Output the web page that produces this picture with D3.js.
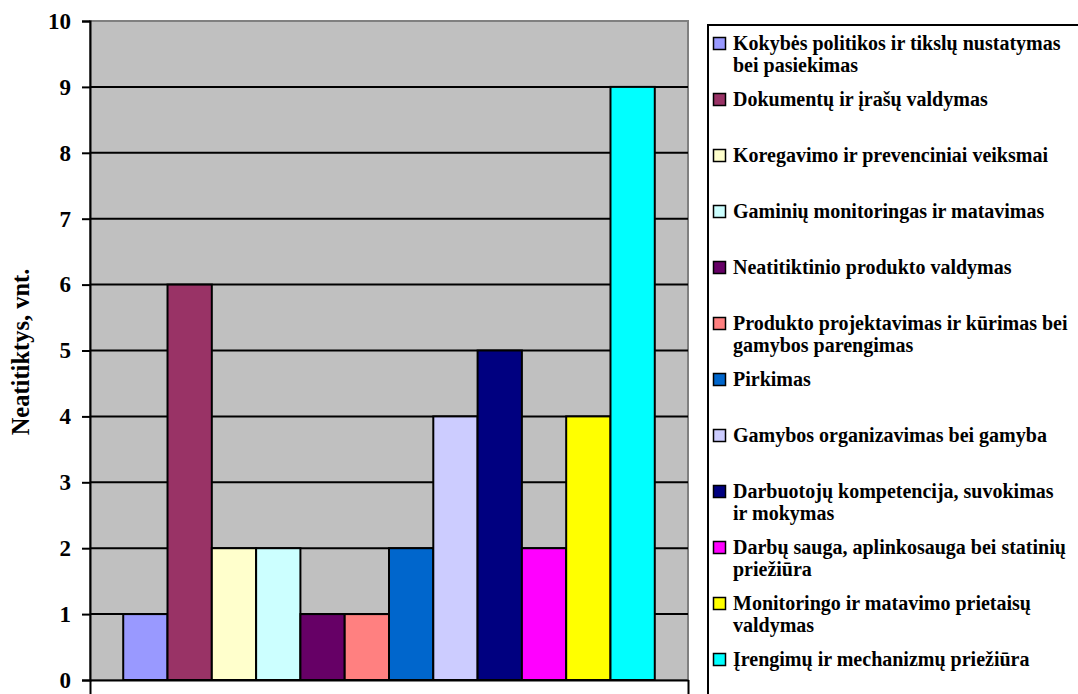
<!DOCTYPE html>
<html>
<head>
<meta charset="utf-8">
<script src="https://cdn.jsdelivr.net/npm/d3@7"></script>
<style>
  html, body { margin: 0; padding: 0; background: #ffffff; }
  svg { display: block; font-family: "Liberation Serif", "Times New Roman", serif; font-weight: bold; }
</style>
</head>
<body>
<svg id="chart" width="1078" height="694"></svg>
<script>
// Neatitiktys pagal sritis (vnt.); "\n" marks where a legend entry breaks onto a second line
const categories = [
  "Kokybės politikos ir tikslų nustatymas\nbei pasiekimas",
  "Dokumentų ir įrašų valdymas",
  "Koregavimo ir prevenciniai veiksmai",
  "Gaminių monitoringas ir matavimas",
  "Neatitiktinio produkto valdymas",
  "Produkto projektavimas ir kūrimas bei\ngamybos parengimas",
  "Pirkimas",
  "Gamybos organizavimas bei gamyba",
  "Darbuotojų kompetencija, suvokimas\nir mokymas",
  "Darbų sauga, aplinkosauga bei statinių\npriežiūra",
  "Monitoringo ir matavimo prietaisų\nvaldymas",
  "Įrengimų ir mechanizmų priežiūra"
];
const values = [1, 6, 2, 2, 1, 1, 2, 4, 5, 2, 4, 9];
const colors = [
  "#9999FF", "#993366", "#FFFFCC", "#CCFFFF", "#660066", "#FF8080",
  "#0066CC", "#CCCCFF", "#000080", "#FF00FF", "#FFFF00", "#00FFFF"
];
const yTicks = [0, 1, 2, 3, 4, 5, 6, 7, 8, 9, 10];
const yTitle = "Neatitiktys, vnt.";

const svg = d3.select("#chart");
const plot = { left: 90, right: 688, top: 21, bottom: 680 };

const y = d3.scaleLinear().domain([0, 10]).range([plot.bottom, plot.top]);
const x = d3.scaleBand()
  .domain(categories)
  .range([plot.left, plot.right])
  .paddingInner(0)
  .paddingOuter(0.75);

// plot background
svg.append("rect")
  .attr("x", plot.left).attr("y", plot.top)
  .attr("width", plot.right - plot.left).attr("height", plot.bottom - plot.top)
  .attr("fill", "#C0C0C0")
  .attr("stroke", "#808080").attr("stroke-width", 2);

// horizontal gridlines
svg.append("g")
  .selectAll("line")
  .data(yTicks.filter(t => t > 0 && t < 10))
  .join("line")
  .attr("x1", plot.left).attr("x2", plot.right)
  .attr("y1", d => y(d)).attr("y2", d => y(d))
  .attr("stroke", "#000").attr("stroke-width", 2);

// bars
svg.append("g")
  .selectAll("rect")
  .data(categories)
  .join("rect")
  .attr("x", d => x(d))
  .attr("y", (d, i) => y(values[i]))
  .attr("width", x.bandwidth())
  .attr("height", (d, i) => y(0) - y(values[i]))
  .attr("fill", (d, i) => colors[i])
  .attr("stroke", "#000").attr("stroke-width", 2);

// y axis
const yAxis = d3.axisLeft(y).tickValues(yTicks).tickFormat(d3.format("d")).tickSize(8).tickPadding(11);
const gy = svg.append("g").attr("transform", `translate(${plot.left},0)`).call(yAxis);
gy.select(".domain").attr("stroke", "#000").attr("stroke-width", 2);
gy.selectAll(".tick line").attr("stroke", "#000").attr("stroke-width", 2);
gy.selectAll(".tick text")
  .attr("font-family", "Liberation Serif, Times New Roman, serif")
  .attr("font-weight", "bold").attr("font-size", 23).attr("fill", "#000");

// x axis (single category: ticks only at both ends)
const xEdge = d3.scaleLinear().domain([0, 1]).range([plot.left, plot.right]);
const gx = svg.append("g").attr("transform", `translate(0,${plot.bottom})`)
  .call(d3.axisBottom(xEdge).tickValues([0, 1]).tickFormat("").tickSize(16).tickSizeOuter(0));
gx.select(".domain").attr("stroke", "#000").attr("stroke-width", 2);
gx.selectAll(".tick line").attr("stroke", "#000").attr("stroke-width", 2);

// y axis title
svg.append("text")
  .attr("transform", `translate(29,352) rotate(-90)`)
  .attr("text-anchor", "middle")
  .attr("font-size", 24.5)
  .text(yTitle);

// legend
const legendBox = { x: 708, y: 25 };
svg.append("rect")
  .attr("x", legendBox.x).attr("y", legendBox.y)
  .attr("width", 400).attr("height", 700)
  .attr("fill", "#fff").attr("stroke", "#000").attr("stroke-width", 2);

const legendStep = 56;
const legendFirst = 50;
const lineGap = 22;
const textX = 733;

const items = svg.append("g").selectAll("g")
  .data(categories)
  .join("g")
  .attr("transform", (d, i) => `translate(0,${legendFirst + i * legendStep})`);

items.append("rect")
  .attr("x", 713.5).attr("y", -12.5)
  .attr("width", 12).attr("height", 12)
  .attr("fill", (d, i) => colors[i])
  .attr("stroke", "#000").attr("stroke-width", 1.5);

items.append("text")
  .attr("x", textX)
  .attr("font-size", 20)
  .selectAll("tspan")
  .data(d => d.split("\n"))
  .join("tspan")
  .attr("x", textX)
  .attr("dy", (d, i) => i === 0 ? 0 : lineGap)
  .text(d => d);
</script>
</body>
</html>
